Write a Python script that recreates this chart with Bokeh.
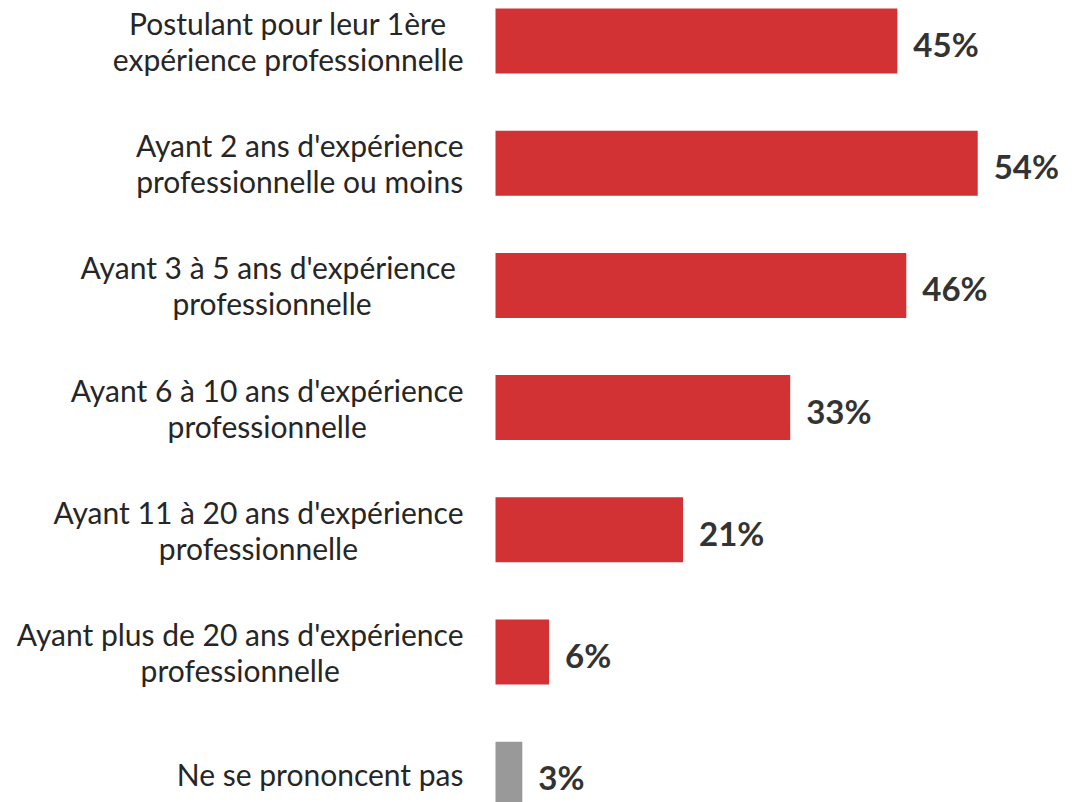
from bokeh.plotting import figure
from bokeh.models import ColumnDataSource, Range1d
from bokeh.core.properties import value
from bokeh.embed import file_html
from bokeh.resources import INLINE

categories = [
    "Postulant pour leur 1ère\nexpérience professionnelle",
    "Ayant 2 ans d'expérience\nprofessionnelle ou moins",
    "Ayant 3 à 5 ans d'expérience \nprofessionnelle",
    "Ayant 6 à 10 ans d'expérience\nprofessionnelle",
    "Ayant 11 à 20 ans d'expérience\nprofessionnelle",
    "Ayant plus de 20 ans d'expérience\nprofessionnelle",
    "Ne se prononcent pas",
]
values = [45, 54, 46, 33, 21, 6, 3]
value_labels = ["45%", "54%", "46%", "33%", "21%", "6%", "3%"]
colors = ["#D33235"] * 6 + ["#999999"]

pos = list(range(len(categories)))
src = ColumnDataSource(dict(y=pos, v=values, lab=value_labels, cat=categories,
                            c=colors, zero=[0] * len(pos)))

W, H = 1075, 802
ppu = 8.93
x0 = -495 / ppu
step = 122.2
y_top = -40.5 / step

p = figure(width=W, height=H, output_backend="svg", toolbar_location=None,
           x_range=Range1d(x0, x0 + W / ppu),
           y_range=Range1d(y_top + H / step, y_top),
           min_border=0, outline_line_color=None)
p.axis.visible = False
p.grid.visible = False

p.hbar(y="y", left=0, right="v", height=65 / step, fill_color="c",
       line_color=None, source=src)

p.text(x="v", y="y", text="lab", x_offset=16, y_offset=3, source=src,
       text_align="left", text_baseline="middle",
       text_font=value("Lato"), text_font_style="bold",
       text_font_size="33px", text_color="#333333")

p.text(x="zero", y="y", text="cat", x_offset=-32, source=src,
       anchor="center_right", text_align="center", text_baseline="middle",
       text_font=value("Lato"), text_font_size="30px",
       text_line_height=1.0, text_color="#262626")

open("out.html", "w").write(file_html(p, INLINE))
